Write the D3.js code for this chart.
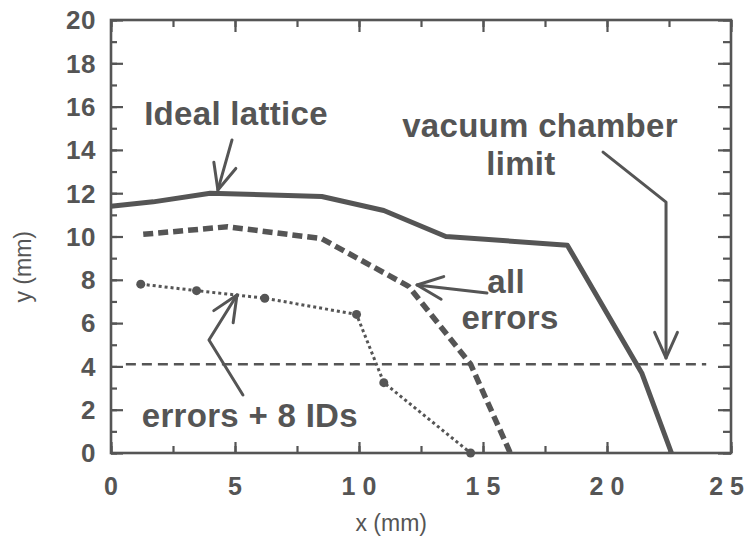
<!DOCTYPE html>
<html>
<head>
<meta charset="utf-8">
<script src="https://cdn.jsdelivr.net/npm/d3@7"></script>
<style>
  body { margin: 0; background: #fff; }
  svg text { font-family: "Liberation Sans", Arial, sans-serif; fill: #555; }
</style>
</head>
<body>
<svg id="chart" width="750" height="540"></svg>
<script>
// x in mm, y in mm
const idealX = [0, 1.7, 4.0, 8.5, 11.0, 13.5, 18.4, 21.4, 22.6];
const idealY = [11.4, 11.6, 12.0, 11.85, 11.2, 10.0, 9.6, 3.7, 0];
const allErrX = [1.3, 4.7, 8.5, 12.0, 14.5, 16.1];
const allErrY = [10.1, 10.45, 9.9, 7.7, 4.1, 0];
const idErrX = [1.2, 3.45, 6.2, 9.9, 11.0, 14.5];
const idErrY = [7.8, 7.5, 7.15, 6.4, 3.25, 0];
const limitX = [0.6, 24.0];
const limitY = [4.1, 4.1];
const xTicks = [0, 5, 10, 15, 20, 25];
const yTicks = [0, 2, 4, 6, 8, 10, 12, 14, 16, 18, 20];

// labels + arrows, in data units
const labels = [
  {text: "Ideal lattice", x: 5.04, y: 15.15},
  {text: "vacuum chamber", x: 17.3, y: 14.6},
  {text: "limit", x: 16.53, y: 12.84},
  {text: "all", x: 15.93, y: 7.39},
  {text: "errors", x: 16.09, y: 5.73},
  {text: "errors + 8 IDs", x: 5.6, y: 1.2}
];
const arrows = [
  [[4.88, 14.46], [4.31, 12.15]],
  [[19.84, 13.9], [22.38, 11.59], [22.38, 4.39]],
  [[15.16, 7.39], [12.34, 7.76]],
  [[5.32, 2.68], [3.95, 5.22], [5.08, 7.3]]
];

const ink = "#555";
const svg = d3.select("#chart");
const width = 750, height = 540;
const margin = {left: 111, top: 20, right: 19, bottom: 87};

const x = d3.scaleLinear().domain([0, 25]).range([margin.left, width - margin.right]);
const y = d3.scaleLinear().domain([0, 20]).range([height - margin.bottom, margin.top]);

const zip = (xs, ys) => xs.map((v, i) => [v, ys[i]]);
const line = d3.line().x(d => x(d[0])).y(d => y(d[1]));

// ticks (inward on all four sides)
const addTicks = (axis, tr) => {
  const g = svg.append("g").attr("transform", tr).call(axis);
  g.select(".domain").remove();
  g.selectAll(".tick line").attr("stroke", ink).attr("stroke-width", 2.2);
  g.selectAll(".tick text").remove();
};
const bottomY = height - margin.bottom, rightX = width - margin.right;
const xMinor = d3.range(0, 25.01, 2.5);
const yMinor = d3.range(0, 20.01, 1);
addTicks(d3.axisBottom(x).tickValues(xMinor).tickSize(-7), `translate(0,${bottomY})`);
addTicks(d3.axisBottom(x).tickValues(xTicks).tickSize(-11), `translate(0,${bottomY})`);
addTicks(d3.axisTop(x).tickValues(xMinor).tickSize(-7), `translate(0,${margin.top})`);
addTicks(d3.axisTop(x).tickValues(xTicks).tickSize(-12), `translate(0,${margin.top})`);
addTicks(d3.axisLeft(y).tickValues(yMinor).tickSize(-6), `translate(${margin.left},0)`);
addTicks(d3.axisLeft(y).tickValues(yTicks).tickSize(-12), `translate(${margin.left},0)`);
addTicks(d3.axisRight(y).tickValues(yMinor).tickSize(-8), `translate(${rightX},0)`);
addTicks(d3.axisRight(y).tickValues(yTicks).tickSize(-13), `translate(${rightX},0)`);

// frame
svg.append("rect")
  .attr("x", margin.left).attr("y", margin.top)
  .attr("width", rightX - margin.left).attr("height", bottomY - margin.top)
  .attr("fill", "none").attr("stroke", ink).attr("stroke-width", 2.6);

// tick labels
svg.append("g").selectAll("text")
  .data(yTicks).enter()
  .append("text")
    .attr("x", margin.left - 15)
    .attr("y", d => y(d))
    .attr("dy", "0.36em")
    .attr("text-anchor", "end")
    .style("font-size", "26px").style("font-weight", "bold")
    .style("letter-spacing", "0.5px")
    .text(d => d);

svg.append("g").selectAll("text")
  .data(xTicks).enter()
  .append("text")
    .attr("y", bottomY + 42)
    .attr("text-anchor", "middle")
    .style("font-size", "25px").style("font-weight", "bold")
    .text(d => String(d).split("").join(" "))
    .attr("x", function(d) {
      // keep the last label inside the window
      const half = this.getComputedTextLength() / 2;
      return Math.min(x(d), width - 6 - half);
    });

// axis titles
svg.append("text")
  .attr("x", x(11.3)).attr("y", 531)
  .attr("text-anchor", "middle")
  .style("font-size", "23px")
  .text("x (mm)");
svg.append("text")
  .attr("transform", `translate(31,${y(8.6)}) rotate(-90)`)
  .attr("text-anchor", "middle")
  .style("font-size", "23px")
  .text("y (mm)");

// vacuum chamber limit
svg.append("path")
  .attr("d", line(zip(limitX, limitY)))
  .attr("fill", "none").attr("stroke", ink)
  .attr("stroke-width", 2.4).attr("stroke-dasharray", "10,6");

// series
svg.append("path")
  .attr("d", line(zip(idealX, idealY)))
  .attr("fill", "none").attr("stroke", ink)
  .attr("stroke-width", 5).attr("stroke-linejoin", "round");

svg.append("path")
  .attr("d", line(zip(allErrX, allErrY)))
  .attr("fill", "none").attr("stroke", ink)
  .attr("stroke-width", 5.5).attr("stroke-dasharray", "10,5");

svg.append("path")
  .attr("d", line(zip(idErrX, idErrY)))
  .attr("fill", "none").attr("stroke", ink)
  .attr("stroke-width", 3).attr("stroke-dasharray", "3,3");

svg.append("g").selectAll("circle")
  .data(zip(idErrX, idErrY)).enter()
  .append("circle")
    .attr("cx", d => x(d[0])).attr("cy", d => y(d[1]))
    .attr("r", 4.5).attr("fill", ink);

// annotations
svg.append("g").selectAll("text")
  .data(labels).enter()
  .append("text")
    .attr("x", d => x(d.x)).attr("y", d => y(d.y))
    .attr("text-anchor", "middle")
    .style("font-size", "33px").style("font-weight", "bold")
    .style("letter-spacing", "0.3px")
    .text(d => d.text);

const arrowG = svg.append("g")
  .attr("fill", "none").attr("stroke", ink)
  .attr("stroke-width", 3).attr("stroke-linecap", "round").attr("stroke-linejoin", "round");
arrows.forEach(pts => {
  arrowG.append("path").attr("d", line(pts));
  const a = pts[pts.length - 2], b = pts[pts.length - 1];
  const bx = x(b[0]), by = y(b[1]);
  const ang = Math.atan2(by - y(a[1]), bx - x(a[0]));
  const len = 28, spread = 0.42;
  const head = [ang + Math.PI - spread, ang + Math.PI + spread]
    .map(t => [bx + len * Math.cos(t), by + len * Math.sin(t)]);
  arrowG.append("path")
    .attr("d", `M${head[0][0]},${head[0][1]}L${bx},${by}L${head[1][0]},${head[1][1]}`);
});
</script>
</body>
</html>
